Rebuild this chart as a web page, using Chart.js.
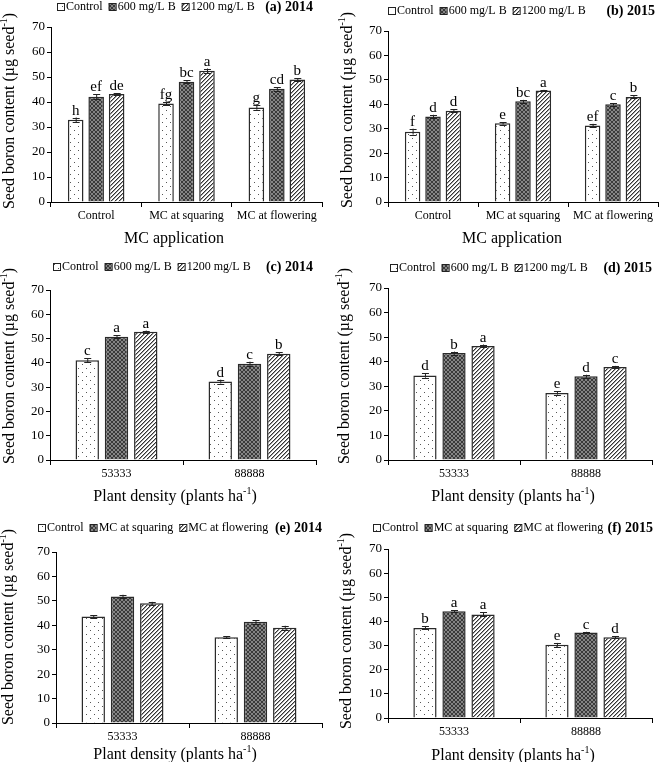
<!DOCTYPE html>
<html><head><meta charset="utf-8">
<script src="https://cdn.jsdelivr.net/npm/chart.js@4.4.1/dist/chart.umd.min.js"></script>
<style>
html,body{margin:0;padding:0;background:#fff;}
#wrap{position:relative;width:660px;height:762px;overflow:hidden;background:#fff;}
#wrap canvas{position:absolute;}
</style></head><body><div id="wrap"></div>
<script>
const FONT = "'Liberation Serif','Times New Roman',serif";

// ---------- data ----------
const mcCategories = ['Control', 'MC at squaring', 'MC at flowering'];
const densityCategories = ['53333', '88888'];
const boronSeries = ['Control', '600 mg/L B', '1200 mg/L B'];
const mcSeries = ['Control', 'MC at squaring', 'MC at flowering'];
const yTickMin = 0, yTickMax = 70, yTickStep = 10;

const yAxisTitle = ['Seed boron content (µg seed', '-1', ')'];
const mcAxisTitle = ['MC application'];
const densityAxisTitle = ['Plant density (plants ha', '-1', ')'];

// (a) 2014 – MC application x boron
const a2014Control = [32.9, 39.4, 37.8];
const a2014B600    = [42.1, 48.1, 45.3];
const a2014B1200   = [43.2, 52.5, 49.0];
const a2014ErrControl = [0.9, 0.6, 0.9];
const a2014ErrB600    = [1.0, 0.6, 0.7];
const a2014ErrB1200   = [0.4, 0.9, 0.6];
const a2014LetControl = ['h', 'fg', 'g'];
const a2014LetB600    = ['ef', 'bc', 'cd'];
const a2014LetB1200   = ['de', 'a', 'b'];

// (b) 2015 – MC application x boron
const b2015Control = [28.8, 32.2, 31.3];
const b2015B600    = [35.0, 41.2, 40.0];
const b2015B1200   = [37.4, 45.6, 43.0];
const b2015ErrControl = [1.2, 0.5, 0.7];
const b2015ErrB600    = [0.7, 0.6, 0.5];
const b2015ErrB1200   = [0.6, 0.3, 0.6];
const b2015LetControl = ['f', 'e', 'ef'];
const b2015LetB600    = ['d', 'bc', 'c'];
const b2015LetB1200   = ['d', 'a', 'b'];

// (c) 2014 – density x boron
const c2014Control = [41.1, 32.3];
const c2014B600    = [50.8, 39.6];
const c2014B1200   = [52.8, 43.8];
const c2014ErrControl = [0.9, 0.8];
const c2014ErrB600    = [0.5, 0.9];
const c2014ErrB1200   = [0.5, 0.5];
const c2014LetControl = ['c', 'd'];
const c2014LetB600    = ['a', 'c'];
const c2014LetB1200   = ['a', 'b'];

// (d) 2015 – density x boron
const d2015Control = [34.4, 27.3];
const d2015B600    = [43.5, 34.1];
const d2015B1200   = [46.4, 37.8];
const d2015ErrControl = [0.9, 0.7];
const d2015ErrB600    = [0.6, 0.6];
const d2015ErrB1200   = [0.6, 0.5];
const d2015LetControl = ['d', 'e'];
const d2015LetB600    = ['b', 'd'];
const d2015LetB1200   = ['a', 'c'];

// (e) 2014 – density x MC
const e2014Control   = [43.6, 35.1];
const e2014Squaring  = [51.8, 41.4];
const e2014Flowering = [49.0, 39.0];
const e2014ErrControl   = [0.6, 0.5];
const e2014ErrSquaring  = [0.7, 0.7];
const e2014ErrFlowering = [0.6, 0.8];

// (f) 2015 – density x MC
const f2015Control   = [37.3, 30.3];
const f2015Squaring  = [44.2, 35.4];
const f2015Flowering = [42.9, 33.4];
const f2015ErrControl   = [0.6, 0.8];
const f2015ErrSquaring  = [0.5, 0.3];
const f2015ErrFlowering = [0.8, 0.4];
const f2015LetControl   = ['b', 'e'];
const f2015LetSquaring  = ['a', 'c'];
const f2015LetFlowering = ['a', 'd'];

// ---------- layout (positions, not data) ----------
const LAYOUT = {
  a: {left:0,   top:0,   w:330, h:262, area:{l:51, r:322, t:27, b:202}, legendX:57, legendY:6,  labelRight:313, xTitleX:174, xTitleY:239, yTitleX:10, yTitleY:111, catPct:0.68, barPct:0.76},
  b: {left:330, top:0,   w:330, h:262, area:{l:58, r:328, t:31, b:202}, legendX:58, legendY:10, labelRight:325, xTitleX:182, xTitleY:239, yTitleX:18, yTitleY:110, catPct:0.68, barPct:0.76},
  c: {left:0,   top:250, w:330, h:262, area:{l:50, r:316, t:40, b:210}, legendX:53, legendY:16, labelRight:313, xTitleX:175, xTitleY:247, yTitleX:10, yTitleY:116, catPct:0.66, barPct:0.8},
  d: {left:330, top:250, w:330, h:262, area:{l:58, r:322, t:38, b:210}, legendX:60, legendY:17, labelRight:322, xTitleX:183, xTitleY:247, yTitleX:15, yTitleY:116, catPct:0.66, barPct:0.8},
  e: {left:0,   top:500, w:330, h:262, area:{l:56, r:322, t:52, b:223}, legendX:38, legendY:27, labelRight:322, xTitleX:175, xTitleY:255, yTitleX:9,  yTitleY:127, catPct:0.66, barPct:0.8},
  f: {left:330, top:500, w:330, h:262, area:{l:58, r:322, t:49, b:218}, legendX:43, legendY:27, labelRight:323, xTitleX:183, xTitleY:256, yTitleX:17, yTitleY:131, catPct:0.66, barPct:0.8}
};

// ---------- patterns ----------
function makePattern(type) {
  const c = document.createElement('canvas');
  const g = c.getContext('2d');
  if (type === 'dots') {
    c.width = 8; c.height = 8;
    g.fillStyle = '#fff'; g.fillRect(0, 0, 8, 8);
    g.fillStyle = '#555'; g.fillRect(2, 2, 1, 1); g.fillRect(6, 6, 1, 1);
  } else if (type === 'cross') {
    c.width = 4; c.height = 4;
    g.fillStyle = '#858585'; g.fillRect(0, 0, 4, 4);
    g.fillStyle = '#3a3a3a';
    for (let i = 0; i < 4; i++) { g.fillRect(i, i, 1, 1); g.fillRect(i, 3 - i, 1, 1); }
  } else {
    c.width = 4; c.height = 4;
    g.fillStyle = '#fff'; g.fillRect(0, 0, 4, 4);
    g.fillStyle = '#333';
    for (let i = 0; i < 4; i++) g.fillRect(i, 3 - i, 1, 1);
    g.fillStyle = '#a0a0a0';
    for (let i = 0; i < 4; i++) g.fillRect(i, (4 - i) % 4, 1, 1);
  }
  return g.createPattern(c, 'repeat');
}
const FILLS = [makePattern('dots'), makePattern('cross'), makePattern('diag')];

// ---------- decoration plugin ----------
function drawRich(ctx, parts, cx, cy, size) {
  const sup = Math.round(size * 0.62);
  const widths = parts.map((p, i) => {
    ctx.font = (i % 2 === 1 ? sup : size) + 'px ' + FONT;
    return ctx.measureText(p).width;
  });
  const total = widths.reduce((s, v) => s + v, 0);
  let x = cx - total / 2;
  ctx.textAlign = 'left';
  ctx.textBaseline = 'middle';
  parts.forEach((p, i) => {
    const isSup = i % 2 === 1;
    ctx.font = (isSup ? sup : size) + 'px ' + FONT;
    ctx.fillText(p, x, isSup ? cy - size * 0.36 : cy);
    x += widths[i];
  });
}

const decor = {
  id: 'decor',
  afterDatasetsDraw(chart) {
    const ctx = chart.ctx, y = chart.scales.y;
    ctx.save();
    chart.data.datasets.forEach((ds, di) => {
      const meta = chart.getDatasetMeta(di);
      meta.data.forEach((bar, i) => {
        const v = ds.data[i], e = ds.errors[i];
        const yt = y.getPixelForValue(v + e), yb = y.getPixelForValue(v - e);
        ctx.strokeStyle = '#222'; ctx.lineWidth = 1;
        ctx.beginPath();
        ctx.moveTo(bar.x + 0.5, yt); ctx.lineTo(bar.x + 0.5, yb);
        ctx.moveTo(bar.x - 3, Math.round(yt) + 0.5); ctx.lineTo(bar.x + 4, Math.round(yt) + 0.5);
        ctx.moveTo(bar.x - 3, Math.round(yb) + 0.5); ctx.lineTo(bar.x + 4, Math.round(yb) + 0.5);
        ctx.stroke();
        if (ds.letters) {
          ctx.fillStyle = '#000';
          ctx.font = '15px ' + FONT;
          ctx.textAlign = 'center'; ctx.textBaseline = 'alphabetic';
          ctx.fillText(ds.letters[i], bar.x, yt - 3);
        }
      });
    });
    ctx.restore();
  },
  afterDraw(chart) {
    const L = chart.options.plugins.decor.L;
    const ctx = chart.ctx;
    ctx.save();
    ctx.fillStyle = '#000';
    // legend
    let x = L.legendX;
    ctx.font = '12px ' + FONT;
    ctx.textBaseline = 'middle'; ctx.textAlign = 'left';
    chart.data.datasets.forEach((ds, i) => {
      ctx.fillStyle = ds.backgroundColor;
      ctx.fillRect(x, L.legendY - 3, 7, 7);
      ctx.strokeStyle = '#222'; ctx.lineWidth = 1;
      ctx.strokeRect(x + 0.5, L.legendY - 2.5, 7, 7);
      x += 9;
      ctx.fillStyle = '#000';
      ctx.fillText(ds.label, x, L.legendY + 1);
      x += ctx.measureText(ds.label).width + 6;
    });
    // panel label
    ctx.font = 'bold 14px ' + FONT;
    ctx.textAlign = 'right';
    ctx.fillText(chart.options.plugins.decor.panel, L.labelRight, L.legendY + 1);
    // x title
    drawRich(ctx, chart.options.plugins.decor.xTitle, L.xTitleX, L.xTitleY, 16);
    // y title
    ctx.translate(L.yTitleX, L.yTitleY);
    ctx.rotate(-Math.PI / 2);
    drawRich(ctx, yAxisTitle, 0, 0, 16);
    ctx.restore();
  }
};

// ---------- charts ----------
function makeChart(key, panel, cats, seriesNames, values, errors, letters, xTitle) {
  const L = LAYOUT[key];
  const cv = document.createElement('canvas');
  cv.width = L.w; cv.height = L.h;
  cv.style.left = L.left + 'px'; cv.style.top = L.top + 'px';
  cv.style.width = L.w + 'px'; cv.style.height = L.h + 'px';
  document.getElementById('wrap').appendChild(cv);
  const datasets = seriesNames.map((name, i) => ({
    label: name,
    data: values[i],
    errors: errors[i],
    letters: letters ? letters[i] : null,
    backgroundColor: FILLS[i],
    borderColor: '#2a2a2a',
    borderWidth: 1.5,
    categoryPercentage: L.catPct,
    barPercentage: L.barPct
  }));
  new Chart(cv, {
    type: 'bar',
    data: { labels: cats, datasets },
    options: {
      responsive: false,
      animation: false,
      devicePixelRatio: 1,
      layout: { padding: { top: L.area.t, right: L.w - L.area.r, left: 0, bottom: 0 } },
      plugins: {
        legend: { display: false },
        tooltip: { enabled: false },
        decor: { L, panel, xTitle }
      },
      scales: {
        x: {
          grid: { display: true, drawOnChartArea: false, drawTicks: true, tickLength: 5, color: '#000', offset: true },
          border: { display: true, color: '#000', width: 1 },
          ticks: { color: '#000', font: { family: FONT, size: 12 }, padding: 2, maxRotation: 0, autoSkip: false },
          afterFit: s => { s.height = L.h - L.area.b; }
        },
        y: {
          min: yTickMin, max: yTickMax,
          grid: { display: true, drawOnChartArea: false, drawTicks: true, tickLength: 4, color: '#000' },
          border: { display: true, color: '#000', width: 1 },
          ticks: { stepSize: yTickStep, color: '#000', font: { family: FONT, size: 13 }, padding: 2 },
          afterFit: s => { s.width = L.area.l; }
        }
      }
    },
    plugins: [decor]
  });
}

makeChart('a', '(a) 2014', mcCategories, boronSeries,
  [a2014Control, a2014B600, a2014B1200],
  [a2014ErrControl, a2014ErrB600, a2014ErrB1200],
  [a2014LetControl, a2014LetB600, a2014LetB1200], mcAxisTitle);
makeChart('b', '(b) 2015', mcCategories, boronSeries,
  [b2015Control, b2015B600, b2015B1200],
  [b2015ErrControl, b2015ErrB600, b2015ErrB1200],
  [b2015LetControl, b2015LetB600, b2015LetB1200], mcAxisTitle);
makeChart('c', '(c) 2014', densityCategories, boronSeries,
  [c2014Control, c2014B600, c2014B1200],
  [c2014ErrControl, c2014ErrB600, c2014ErrB1200],
  [c2014LetControl, c2014LetB600, c2014LetB1200], densityAxisTitle);
makeChart('d', '(d) 2015', densityCategories, boronSeries,
  [d2015Control, d2015B600, d2015B1200],
  [d2015ErrControl, d2015ErrB600, d2015ErrB1200],
  [d2015LetControl, d2015LetB600, d2015LetB1200], densityAxisTitle);
makeChart('e', '(e) 2014', densityCategories, mcSeries,
  [e2014Control, e2014Squaring, e2014Flowering],
  [e2014ErrControl, e2014ErrSquaring, e2014ErrFlowering],
  null, densityAxisTitle);
makeChart('f', '(f) 2015', densityCategories, mcSeries,
  [f2015Control, f2015Squaring, f2015Flowering],
  [f2015ErrControl, f2015ErrSquaring, f2015ErrFlowering],
  [f2015LetControl, f2015LetSquaring, f2015LetFlowering], densityAxisTitle);
</script>
</body></html>
